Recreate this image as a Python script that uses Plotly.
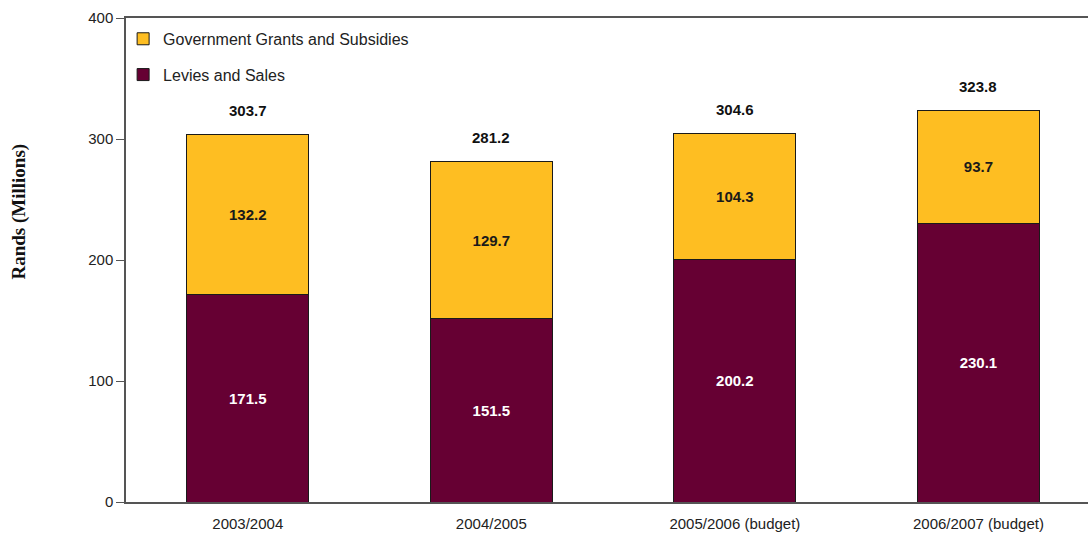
import plotly.graph_objects as go

categories = ["2003/2004", "2004/2005", "2005/2006 (budget)", "2006/2007 (budget)"]
levies = [171.5, 151.5, 200.2, 230.1]
grants = [132.2, 129.7, 104.3, 93.7]
totals = [303.7, 281.2, 304.6, 323.8]
y_ticks = [0, 100, 200, 300, 400]

LBL = dict(family="Arial, Liberation Sans", size=15)

fig = go.Figure()
fig.add_trace(go.Bar(
    x=categories, y=levies, name="Levies and Sales", legendgroup="b", legendrank=2,
    marker=dict(color="#660033", line=dict(color="#1a1a1a", width=1)),
    text=[f"{v:.1f}" for v in levies], textposition="inside", insidetextanchor="middle",
    textfont=dict(**LBL, color="white", weight="bold"),
    width=0.5,
))
fig.add_trace(go.Bar(
    x=categories, y=grants, name="Government Grants and Subsidies", legendgroup="a", legendrank=1,
    marker=dict(color="#FEBE22", line=dict(color="#1a1a1a", width=1)),
    text=[f"{v:.1f}" for v in grants], textposition="inside", insidetextanchor="middle",
    textfont=dict(**LBL, color="#1a1a1a", weight="bold"),
    width=0.5,
))

for c, t in zip(categories, totals):
    fig.add_annotation(x=c, y=t, text=f"<b>{t:.1f}</b>", showarrow=False, yshift=24,
                       font=dict(**LBL, color="#111"))

fig.add_annotation(x=-0.1113, y=0.60, xref="paper", yref="paper", textangle=-90,
                   xanchor="center", yanchor="middle",
                   text="<b>Rands (Millions)</b>", showarrow=False,
                   font=dict(family="Times New Roman, Liberation Serif", size=19, color="#111"))

fig.update_layout(
    width=1088, height=533, barmode="stack",
    margin=dict(l=126, r=0, t=18, b=31),
    plot_bgcolor="white", paper_bgcolor="white",
    uniformtext=dict(mode=False),
    legend=dict(x=-0.003, y=0.992, xanchor="left", yanchor="top",
                traceorder="grouped", tracegroupgap=12, itemwidth=30,
                font=dict(family="Arial, Liberation Sans", size=16, color="#222"),
                bgcolor="rgba(0,0,0,0)"),
    font=dict(family="Arial, Liberation Sans", size=14, color="#222"),
)
fig.update_xaxes(
    type="category", range=[-0.5, 3.45], showline=True, linecolor="#555", linewidth=1.5,
    mirror=True, ticks="outside", ticklen=7, tickcolor="rgba(0,0,0,0)",
    tickfont=dict(family="Arial, Liberation Sans", size=15, color="#222"), showgrid=False,
)
fig.update_yaxes(
    range=[0, 400], tickvals=y_ticks, showline=True, linecolor="#555", linewidth=1.5,
    ticks="outside", ticklen=8, tickcolor="#555", showgrid=False, zeroline=False,
    tickfont=dict(family="Arial, Liberation Sans", size=15, color="#222"),
)

fig.write_html("out.html")
